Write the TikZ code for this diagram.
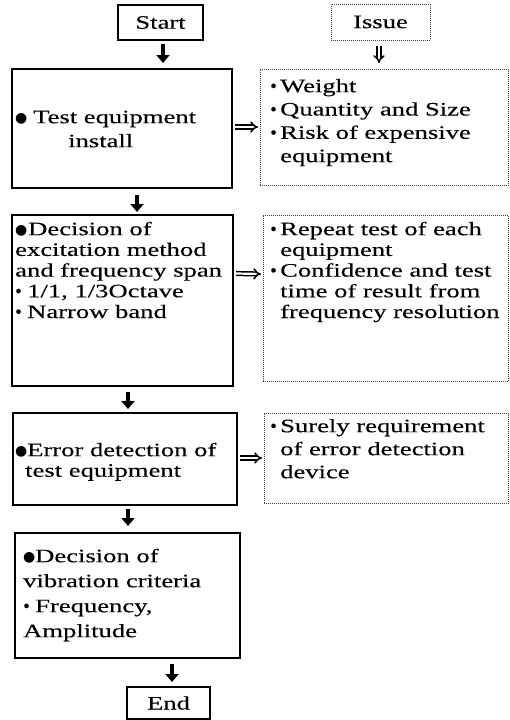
\documentclass[tikz,border=0pt]{standalone}
\usepackage{fontspec}
\setmainfont[FakeStretch=1.4,FakeBold=0.2]{Liberation Serif}
\newfontfamily\plainfont[FakeBold=0.2]{Liberation Serif}
\newfontfamily\symfont{DejaVu Sans}
\usetikzlibrary{arrows.meta}
\newcommand\tp{\rule{0pt}{15pt}}
\newcommand\bb[1]{\makebox[#1][l]{\raisebox{1.2pt}{\symfont\fontsize{14}{14}\selectfont ●}}}
\newcommand\sbul[1]{\makebox[#1][l]{\plainfont •}}
\tikzset{
  solidbox/.style={draw=black, line width=1.4pt, inner sep=0pt, outer sep=0pt},
  dotbox/.style={draw=black!75, line width=0.7pt, dash pattern=on 0.8pt off 1.2pt, inner sep=0pt, outer sep=0pt},
  txt/.style={anchor=north west, inner sep=0pt, align=left},
  bigarr/.style={line width=4pt, -{Triangle[width=13pt,length=8pt]}},
  dblarr/.style={double, double distance=2.2pt, line width=1.5pt, -{Implies}},
}
\begin{document}
\begin{tikzpicture}[x=1pt,y=-1pt,font=\fontsize{19}{21}\selectfont]
\useasboundingbox (0,0) rectangle (510,720);
% boxes
\node[solidbox, minimum width=85pt, minimum height=35pt] (start) at (160.5,22.5) {Start};
\node[dotbox, minimum width=99pt, minimum height=36pt] (issue) at (380.5,22) {Issue};
\node[solidbox, minimum width=220pt, minimum height=119pt] (b1) at (122,128.5) {};
\node[dotbox, minimum width=248.5pt, minimum height=116pt] (i1) at (384.25,127) {};
\node[solidbox, minimum width=221pt, minimum height=171pt] (b2) at (122.5,300.5) {};
\node[dotbox, minimum width=245.5pt, minimum height=166pt] (i2) at (385.75,298) {};
\node[solidbox, minimum width=224pt, minimum height=92pt] (b3) at (125,459) {};
\node[dotbox, minimum width=244.5pt, minimum height=90pt] (i3) at (386.25,458) {};
\node[solidbox, minimum width=225pt, minimum height=125pt] (b4) at (127.5,595.5) {};
\node[solidbox, minimum width=83pt, minimum height=32pt] (end) at (168.5,703) {End};
% texts
\node[txt, font=\fontsize{19}{24}\selectfont] (t1) at (15,108)
  {\tp\bb{18pt}Test equipment\\ \hspace*{53pt}install};
\node[txt, font=\fontsize{19}{20.7}\selectfont] (t2) at (15,220)
  {\tp\bb{13pt}Decision of\\ excitation method\\ and frequency span\\ \sbul{12pt}1/1, 1/3Octave\\ \sbul{12pt}Narrow band};
\node[txt, font=\fontsize{19}{20.5}\selectfont] (t3) at (15,441)
  {\tp\bb{12pt}Error detection of\\ \hspace*{10pt}test equipment};
\node[txt, font=\fontsize{19}{25}\selectfont] (t4) at (23,547)
  {\tp\bb{12pt}Decision of\\ vibration criteria\\ \sbul{12pt}Frequency,\\ Amplitude};
\node[txt, font=\fontsize{19}{23.3}\selectfont] (u1) at (270,77)
  {\tp\sbul{10pt}Weight\\ \sbul{10pt}Quantity and Size\\ \sbul{10pt}Risk of expensive\\ \hspace*{10pt}equipment};
\node[txt, font=\fontsize{19}{20.7}\selectfont] (u2) at (270,220)
  {\tp\sbul{10pt}Repeat test of each\\ \hspace*{10pt}equipment\\ \sbul{10pt}Confidence and test\\ \hspace*{10pt}time of result from\\ \hspace*{10pt}frequency resolution};
\node[txt, font=\fontsize{19}{23}\selectfont] (u3) at (270,417)
  {\tp\sbul{10pt}Surely requirement\\ \hspace*{10pt}of error detection\\ \hspace*{10pt}device};
% flow arrows
\draw[bigarr] ([xshift=2.5pt,yshift=-4pt]start.south) -- ([xshift=41pt,yshift=6pt]b1.north);
\draw[bigarr] ([xshift=15pt,yshift=-7pt]b1.south) -- ([xshift=14.5pt,yshift=3pt]b2.north);
\draw[bigarr] ([xshift=5.5pt,yshift=-6pt]b2.south) -- ([xshift=3pt,yshift=4pt]b3.north);
\draw[bigarr] ([xshift=3pt,yshift=-4pt]b3.south) -- ([xshift=0.5pt,yshift=7pt]b4.north);
\draw[bigarr] ([xshift=44.5pt,yshift=-6pt]b4.south) -- ([xshift=3.5pt,yshift=5pt]end.north);
% issue arrows
\draw[dblarr] ([xshift=-1.5pt,yshift=-6pt]issue.south) -- ([xshift=-5.25pt,yshift=6pt]i1.north);
\draw[dblarr] ([xshift=3pt,yshift=1.5pt]b1.east) -- ([xshift=-2pt]i1.west);
\draw[dblarr] ([xshift=3pt,yshift=27pt]b2.east) -- ([xshift=-2pt,yshift=24pt]i2.west);
\draw[dblarr] ([xshift=3pt,yshift=1pt]b3.east) -- ([xshift=-2pt]i3.west);
\end{tikzpicture}
\end{document}
